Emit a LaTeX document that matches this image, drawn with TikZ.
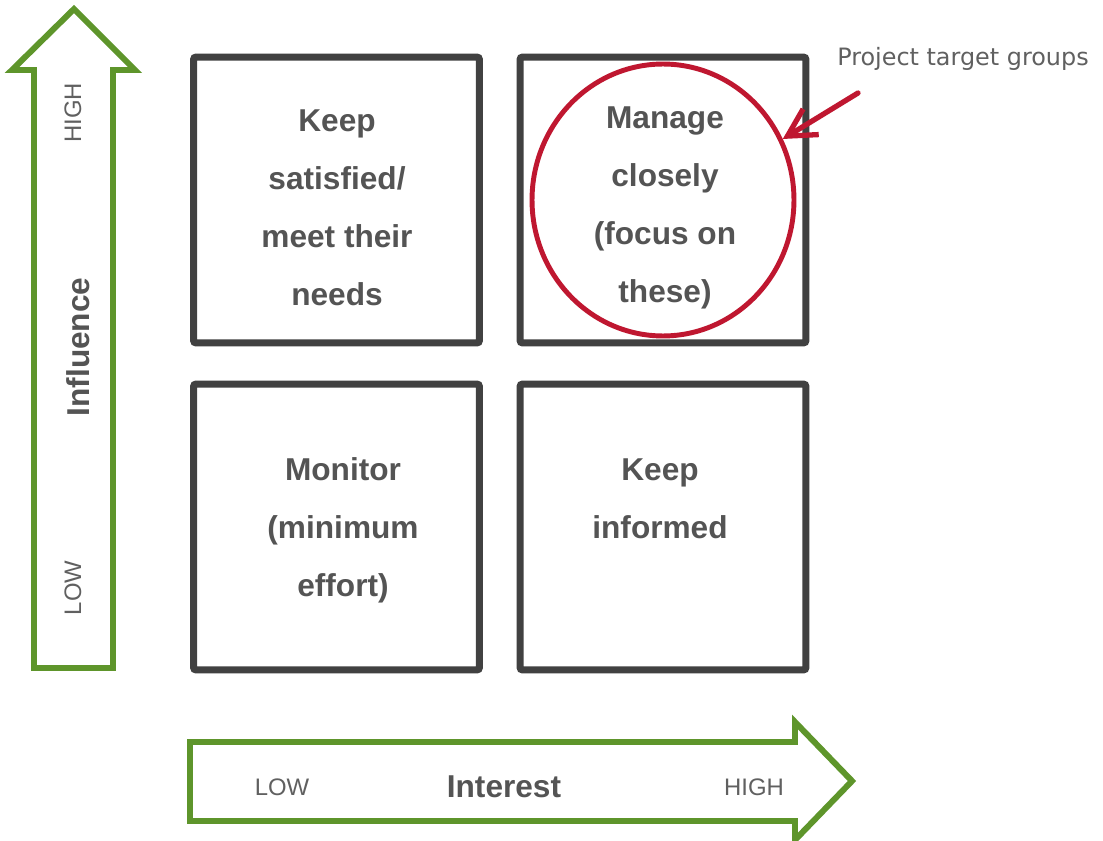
\documentclass[tikz,border=0pt]{standalone}
\usepackage{fontspec}
\setmainfont{Liberation Sans}
\newfontfamily\dejavu{DejaVu Sans}
\usetikzlibrary{shapes.geometric,arrows.meta}
\definecolor{axgreen}{HTML}{5E952B}
\definecolor{boxgray}{HTML}{414141}
\definecolor{txtgray}{HTML}{545454}
\definecolor{lblgray}{HTML}{606060}
\definecolor{ringred}{HTML}{BF1730}
\begin{document}
\begin{tikzpicture}[x=0.02cm,y=-0.02cm,
        quad/.style={draw=boxgray, line width=4pt, rounded corners=1.5pt, minimum width=5.72cm, minimum height=5.72cm, inner sep=0pt},
        bigtxt/.style={text=txtgray, font=\bfseries\fontsize{18}{33}\selectfont, align=center},
        axtxt/.style={text=lblgray, font=\fontsize{13.6}{16}\selectfont},
        ax/.style={draw=axgreen, line width=3.4pt, line join=miter}]
        \clip (0,0) rectangle (1103,841);
        \fill[white] (0,0) rectangle (1103,841);
        \draw[ax](34,668)--(34,70)--(12,70)--(74,9)--(135,70)--(113,70)--(113,668)--cycle;
        \draw[ax](190,742)--(795,742)--(795,722)--(852,781)--(795,840)--(795,821)--(190,821)--cycle;
        \node[axtxt, rotate=90] (vhigh) at (73,113) {HIGH};
        \node[axtxt, rotate=90] (vlow) at (73,588) {LOW};
        \node[bigtxt, rotate=90] (infl) at (78,347) {Influence};
        \node[axtxt] (hlow) at (282,787) {LOW};
        \node[bigtxt] (inter) at (504,787) {Interest};
        \node[axtxt] (hhigh) at (754,787) {HIGH};
        \node[quad] (keep) at (336.5,200) {};
        \node[quad] (manage) at (663,200) {};
        \node[quad] (monitor) at (336.5,527) {};
        \node[quad] (inform) at (663,527) {};
        \node[bigtxt] (t1) at (337,208) {Keep\\satisfied/\\meet their\\needs};
        \node[bigtxt] (t2) at (665,208) {Manage\\closely\\(focus on\\these)};
        \node[bigtxt] (t3) at (343,530) {Monitor\\(minimum\\effort)};
        \node[bigtxt] (t4) at (660,499) {Keep\\informed};
        \node[draw=ringred, line width=2.8pt, ellipse, inner sep=0pt, minimum width=5.24cm, minimum height=5.44cm] (ring) at (663,200) {};
        \node[text=lblgray, font=\dejavu\fontsize{13.6}{16}\selectfont] (target) at (963,59) {Project target groups};
        \coordinate (tail) at (858,93);
        \draw[ringred, line width=3pt, line cap=round, -{Straight Barb[length=5.5mm, width=6mm]}](tail)--(ring.27);
    \end{tikzpicture}
\end{document}
